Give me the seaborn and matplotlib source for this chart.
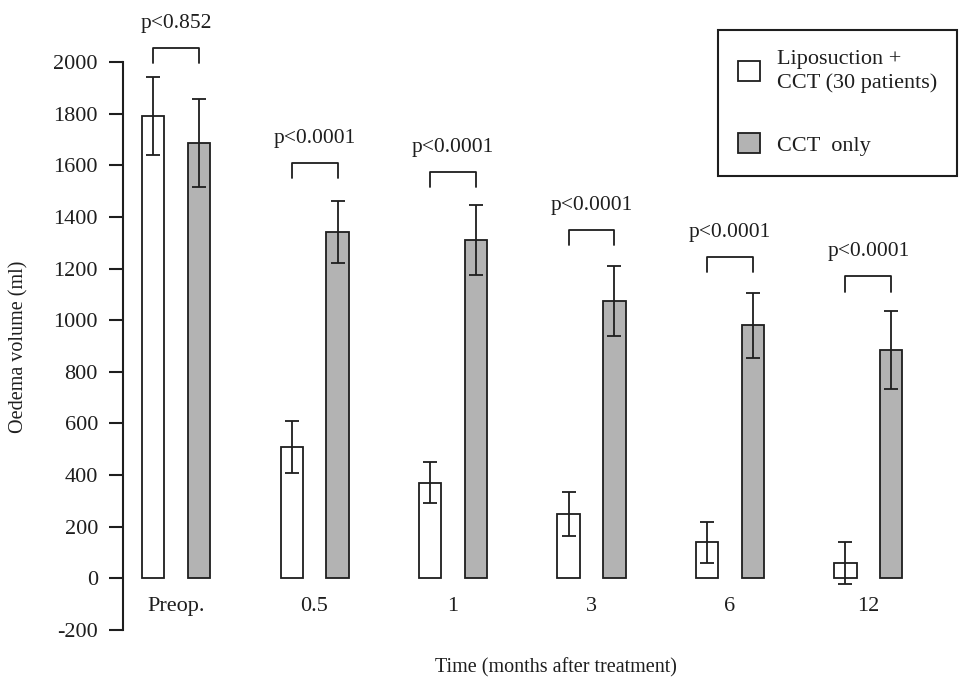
import pandas as pd
import numpy as np
import matplotlib
matplotlib.use("Agg")
import matplotlib.pyplot as plt
from matplotlib.patches import Patch
import seaborn as sns

sns.set_theme(style="white")
plt.rcParams['font.family'] = ['Liberation Serif', 'DejaVu Serif']
plt.rcParams['axes.unicode_minus'] = False

# values (ml)
times = ['Preop.', '0.5', '1', '3', '6', '12']
lipo_mean = [1790, 510, 370, 250, 140, 60]
lipo_sd = [150, 100, 80, 85, 80, 80]
cct_mean = [1685, 1340, 1310, 1075, 980, 885]
cct_sd = [170, 120, 135, 135, 125, 150]
p_labels = ['p<0.852', 'p<0.0001', 'p<0.0001', 'p<0.0001', 'p<0.0001', 'p<0.0001']
bracket_y = [2055, 1610, 1575, 1350, 1245, 1170]

groups = ['Liposuction +\nCCT (30 patients)', 'CCT  only']
grey = '#b3b3b3'
ink = '#1e1e1e'

df = pd.DataFrame({
    'time': times * 2,
    'volume': lipo_mean + cct_mean,
    'group': [groups[0]] * len(times) + [groups[1]] * len(times),
})

fig = plt.figure(figsize=(9.6, 6.82), dpi=100)
ax = fig.add_axes([123 / 960, 52 / 682, (960 - 123) / 960, 568 / 682])

sns.barplot(data=df, x='time', y='volume', hue='group', order=times,
            hue_order=groups, palette=['white', grey], width=0.664, gap=0.52,
            edgecolor=ink, linewidth=1.3, errorbar=None, legend=False, ax=ax)

# error bars + p-value brackets, placed on the bars seaborn drew
sds = [lipo_sd, cct_sd]
means = [lipo_mean, cct_mean]
bar_sets = list(ax.containers)
centers = []
for k, cont in enumerate(bar_sets):
    xs = [p.get_x() + p.get_width() / 2 for p in cont.patches]
    centers.append(xs)
    ax.errorbar(xs, means[k], yerr=sds[k], fmt='none', ecolor=ink,
                elinewidth=1.3, capsize=5, capthick=1.3, clip_on=False)

for i in range(len(times)):
    x0, x1 = centers[0][i], centers[1][i]
    yb = bracket_y[i]
    ax.plot([x0, x0, x1, x1], [yb - 60, yb, yb, yb - 60], color=ink,
            lw=1.3, clip_on=False)
    ax.text((x0 + x1) / 2, yb + 95, p_labels[i], ha='center', va='center',
            fontsize=15.5, color=ink, clip_on=False)

ax.set_ylim(-200, 2000)
ax.set_xlim(-0.383, 5.661)
ax.set_yticks(np.arange(-200, 2001, 200))
for s in ['top', 'right', 'bottom']:
    ax.spines[s].set_visible(False)
ax.spines['left'].set_bounds(-200, 2000)
ax.spines['left'].set_color(ink)
ax.spines['left'].set_linewidth(1.5)
ax.tick_params(axis='y', direction='out', length=10, width=1.5, color=ink,
               pad=8, labelsize=16, labelcolor=ink, left=True)
ax.tick_params(axis='x', length=0, pad=-24, labelsize=16, labelcolor=ink)

ax.set_ylabel('Oedema volume (ml)', fontsize=14.5, color=ink)
ax.yaxis.set_label_coords(-0.1135, 0.498)
ax.set_xlabel('Time (months after treatment)', fontsize=14.5, color=ink)
ax.xaxis.set_label_coords(0.517, -0.05)

handles = [Patch(facecolor='white', edgecolor=ink, linewidth=1.3),
           Patch(facecolor=grey, edgecolor=ink, linewidth=1.3)]
leg = fig.legend(handles, groups, loc='upper right',
                 bbox_to_anchor=(0.997, 0.956), fontsize=16, frameon=True,
                 fancybox=False, framealpha=1, edgecolor=ink,
                 handlelength=1.0, handleheight=1.0, handletextpad=0.75,
                 labelspacing=1.8, borderpad=0.9, borderaxespad=0)
leg.get_frame().set_linewidth(1.5)
for t in leg.get_texts():
    t.set_color(ink)
    t.set_linespacing(1.3)

fig.savefig('out.png', dpi=100)
